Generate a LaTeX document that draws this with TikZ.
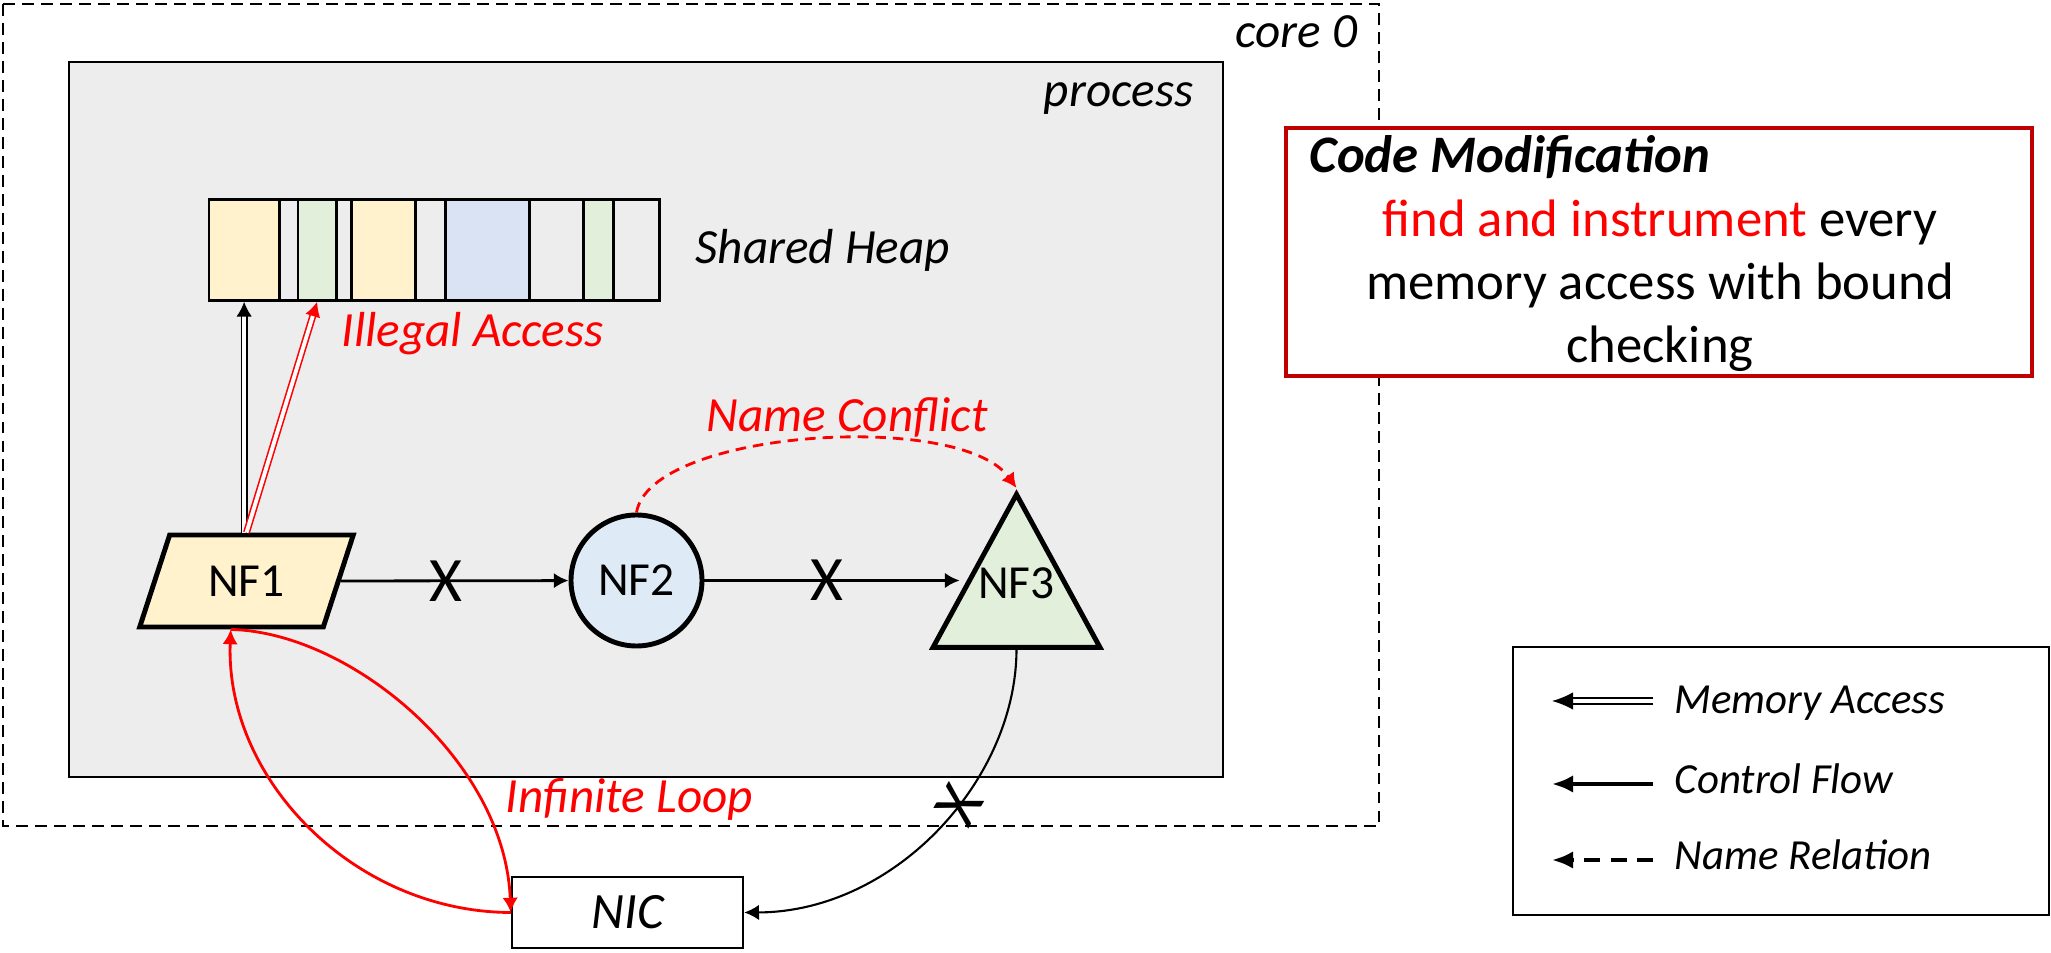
\documentclass[tikz,border=0pt]{standalone}
\usepackage{fontspec}
\setmainfont{Carlito}
\usepackage{xcolor}
\usepackage{tikz}
\usetikzlibrary{arrows.meta}
\usetikzlibrary{shapes.geometric}
\usetikzlibrary{calc}
\definecolor{procgray}{HTML}{EDEDED}
\definecolor{nfyellow}{HTML}{FFF2CC}
\definecolor{nfblue}{HTML}{DEEBF7}
\definecolor{nfgreen}{HTML}{E2EFDA}
\definecolor{heapblue}{HTML}{DAE3F3}
\definecolor{boxred}{HTML}{C00000}

\begin{document}
\begin{tikzpicture}[x=1cm, y=-1cm,
    lbl/.style={font=\fontsize{14}{16}\selectfont\itshape, inner sep=0pt},
    lgtext/.style={font=\fontsize{12.2}{14}\selectfont\itshape, inner sep=0pt, anchor=base west},
    nf/.style={draw, line width=1.4pt, font=\fontsize{13.5}{16}\selectfont, inner sep=0pt},
    nftext/.style={font=\fontsize{13.5}{16}\selectfont, inner sep=0pt},
    nicbox/.style={draw, line width=0.7pt, minimum width=2.31cm, minimum height=0.71cm, font=\fontsize{14.5}{16}\selectfont\itshape},
    cell/.style={draw, line width=0.8pt, minimum height=1.01cm, inner sep=0pt, anchor=north west},
    flow/.style={line width=0.8pt, -{Latex[length=4.2pt,width=4.4pt]}},
    memacc/.style={double, double distance=1.1pt, line width=0.45pt, -{Latex[length=4.2pt,width=4.4pt]}},
    cross/.style={font=\fontsize{18}{18}\selectfont, inner sep=0pt}]
  \path[use as bounding box, fill=white] (0,0) rectangle (20.51,9.53);

  % core and process frames
  \draw[line width=0.7pt, dash pattern=on 3.4pt off 2pt] (0.03,0.04) rectangle (13.79,8.26);
  \node[lbl, anchor=base east] (core) at (13.58,0.48) {core 0};
  \draw[fill=procgray, line width=0.8pt] (0.69,0.62) rectangle (12.23,7.77);
  \node[lbl, anchor=base east] (proc) at (11.94,1.07) {process};

  % shared heap
  \foreach \a/\b/\c [count=\i] in {2.075/2.78/nfyellow, 2.78/2.965/procgray, 2.965/3.35/nfgreen,
      3.35/3.50/procgray, 3.50/4.14/nfyellow, 4.14/4.44/procgray, 4.44/5.28/heapblue,
      5.28/5.82/procgray, 5.82/6.12/nfgreen, 6.12/6.58/procgray}
    \node[cell, fill=\c, minimum width={(\b-\a)*1cm}] (c\i) at (\a,1.98) {};
  \node[lbl, anchor=base west] (heaplbl) at (6.95,2.64) {Shared Heap};

  % network functions
  \node[nf, trapezium, trapezium left angle=64, trapezium right angle=116, trapezium stretches,
        minimum width=2.14cm, minimum height=0.92cm, fill=nfyellow] (nf1) at (2.465,5.81) {NF1};
  \node[nf, circle, minimum size=1.31cm, fill=nfblue] (nf2) at (6.365,5.805) {NF2};
  \node[nf, isosceles triangle, shape border rotate=90, isosceles triangle stretches,
        minimum width=1.67cm, minimum height=1.53cm, fill=nfgreen, anchor=apex] (nf3) at (10.165,4.88) {};
  \node[nftext] (nf3txt) at ([yshift=-0.7pt]nf3.apex |- nf2) {NF3};
  \coordinate (nf3in) at ($(nf3.apex)!0.6!(nf3.left corner)$);
  \node[nicbox] (nic) at (6.275,9.125) {NIC};

  % memory accesses
  \draw[memacc] (c1.south |- nf1.north) -- (c1.south);
  \draw[memacc, red] (nf1.north) -- (c3.south);
  \node[lbl, red, anchor=base west] (illegal) at (3.41,3.47) {Illegal Access};

  % control flow
  \draw[flow] (nf1.east) -- node[cross, pos=0.46] (x1) {X} (nf2);
  \draw[flow] (nf2.east) -- node[cross, pos=0.48] (x2) {X} ([xshift=-1.2pt]nf2.east -| nf3in);
  \draw[flow, red, dash pattern=on 3pt off 2pt] (nf2.north) .. controls (6.50,4.30) and (9.60,4.10) .. (nf3.apex);
  \node[lbl, red, anchor=base west] (conflict) at (7.06,4.32) {Name Conflict};

  \draw[flow, red] (nic.west) .. controls (3.55,9.12) and (2.25,7.8) .. (nf1.bottom side);
  \draw[flow, red] (nf1.bottom side) .. controls (3.5,6.32) and (5.05,7.6) .. (nic.west);
  \node[lbl, red, anchor=base west] (loop) at (5.05,8.13) {Infinite Loop};
  \draw[flow, line width=0.6pt] (nf3.lower side) .. controls (10.16,7.8) and (8.95,9.12) ..
        node[cross, pos=0.42, rotate=60] (x3) {X} (nic.east);

  % code modification note
  \node[draw=boxred, line width=1.2pt, fill=white, minimum width=7.46cm, minimum height=2.48cm, inner sep=0pt] (codebox) at (16.59,2.52) {};
  \node[font=\fontsize{15}{18}\selectfont\bfseries\itshape, anchor=base west, inner sep=0pt] (codetitle) at (13.09,1.73) {Code Modification};
  \node[font=\fontsize{15}{18}\selectfont, align=center, anchor=base, inner sep=0pt] (codetext) at (16.6,3.63)
        {\textcolor{red}{find and instrument} every\\memory access with bound\\checking};

  % legend
  \draw[line width=0.7pt] (15.13,6.47) rectangle (20.49,9.15);
  \node[lgtext] (lgmem) at (16.74,7.14) {Memory Access};
  \node[lgtext] (lgflow) at (16.74,7.94) {Control Flow};
  \node[lgtext] (lgname) at (16.74,8.70) {Name Relation};
  \coordinate (memtail) at (16.53,7.01);  \coordinate (memtip) at (15.52,7.01);
  \coordinate (flowtail) at (16.53,7.84); \coordinate (flowtip) at (15.52,7.84);
  \coordinate (nametail) at (16.53,8.60); \coordinate (nametip) at (15.52,8.60);
  \draw[double, double distance=1.2pt, line width=0.5pt, -{Latex[length=6pt,width=5pt]}] (memtail) -- (memtip);
  \draw[line width=1.2pt, -{Latex[length=6pt,width=5pt]}] (flowtail) -- (flowtip);
  \draw[line width=1.2pt, dash pattern=on 4.5pt off 3pt, -{Latex[length=6pt,width=5pt]}] (nametail) -- (nametip);
\end{tikzpicture}
\end{document}
